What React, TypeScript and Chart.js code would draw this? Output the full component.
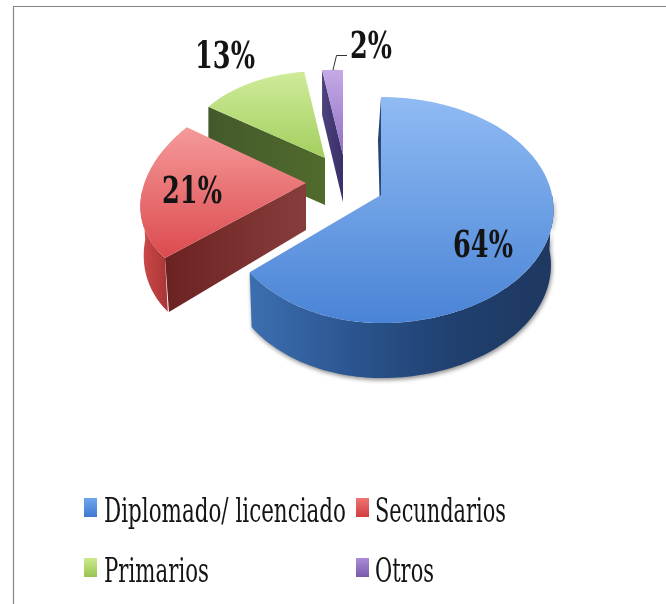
import React, { useEffect, useRef } from "react";
import { Chart, registerables } from "chart.js";

Chart.register(...registerables);

const categories = ["Diplomado/ licenciado", "Secundarios", "Primarios", "Otros"];
const shares = [64, 21, 13, 2];
const baseColors = ["#4f81bd", "#c0504d", "#9bbb59", "#8064a2"];

type Pt = [number, number];

// Projection of each exploded slice (unit disc -> page), plus extrusion and colours.
const sliceStyles = [
  { cx: 381, cy: 195, a: 171, aLeft: 156, b: 0, c: 0, d: -111, k: 0.133, depth: 55, dm: 0, shrink: 0.985,
    wall: { depth: 43, dx: -3 }, face: ["#90bbf3", "#4a84d6"], outer: ["#3c6fb0", "#2b5590", "#20406f", "#1e3860"], cut: ["#1f3a64", "#2a4c80"] },
  { cx: 306, cy: 183, a: 164, aLeft: 164, b: 23, c: -8.7, d: -107, k: 0, depth: 47, dm: 0.09, shrink: 0.98,
    wall: { depth: 54, dx: 4 }, face: ["#f59a9a", "#dc4a4e"], outer: ["#cf4a4a", "#a93535"], cut: ["#6d2222", "#883d3d"] },
  { cx: 325, cy: 158, a: 142, aLeft: 142, b: -3, c: 0, d: -87, k: 0, depth: 47, dm: 0, shrink: 1,
    wall: { depth: 47, dx: 0 }, face: ["#cfeb9a", "#a3cf5f"], outer: ["#4d6428", "#4d6428"], cut: ["#43592b", "#506b2c"] },
  { cx: 343, cy: 155, a: 167, aLeft: 167, b: 0, c: 5, d: -85, k: 0, depth: 47, dm: 0, shrink: 1,
    wall: { depth: 45, dx: 0 }, face: ["#c4aae6", "#9070c4"], outer: ["#41366e", "#41366e"], cut: ["#4d4280", "#3a2f66"] },
];
const drawOrder = [3, 2, 1, 0];

const pctStyles = [
  { x: 483, y: 257, w: 60 },
  { x: 192, y: 203, w: 60 },
  { x: 225, y: 68, w: 60 },
  { x: 371, y: 58, w: 42 },
];
const legendStyles = [
  { box: 84, text: 104, base: 522, boxTop: 498, w: 242 },
  { box: 356, text: 375, base: 522, boxTop: 498, w: 131 },
  { box: 84, text: 104, base: 582, boxTop: 558, w: 105 },
  { box: 356, text: 375, base: 582, boxTop: 558, w: 59 },
];
const legendBoxColors = [
  ["#6ea6ee", "#3f7ad0"],
  ["#f07474", "#d23c40"],
  ["#cdea8c", "#98c450"],
  ["#ab8cd8", "#7a5aaa"],
];

function project(s: any, angle: number): Pt {
  const x = Math.cos(angle);
  const y = -Math.sin(angle);
  const w = 1 + s.k * y;
  const dx = (x < 0 ? s.aLeft : s.a) * x + s.b * y;
  const dy = s.c * x + s.d * y;
  return [s.cx + dx / w, s.cy + dy / w];
}

function lower(s: any, p: Pt): Pt {
  return [s.cx + (p[0] - s.cx) * s.shrink, p[1] + s.depth + (p[1] - s.cy) * s.dm];
}

function fillPoly(ctx: CanvasRenderingContext2D, pts: Pt[], cols: string[], vertical: boolean) {
  const xs = pts.map((p) => p[0]);
  const ys = pts.map((p) => p[1]);
  const g = vertical
    ? ctx.createLinearGradient(0, Math.min(...ys), 0, Math.max(...ys))
    : ctx.createLinearGradient(Math.min(...xs), 0, Math.max(...xs), 0);
  cols.forEach((c, i) => g.addColorStop(i / (cols.length - 1), c));
  ctx.fillStyle = g;
  ctx.beginPath();
  pts.forEach((p, i) => (i ? ctx.lineTo(p[0], p[1]) : ctx.moveTo(p[0], p[1])));
  ctx.closePath();
  ctx.fill();
}

const sample = (a0: number, a1: number) => {
  const n = Math.max(2, Math.ceil(Math.abs(a1 - a0) * 40));
  return Array.from({ length: n + 1 }, (_, i) => a0 + ((a1 - a0) * i) / n);
};

function drawText(ctx: CanvasRenderingContext2D, text: string, x: number, base: number, font: string, align: "left" | "center", width: number) {
  ctx.save();
  ctx.font = font;
  ctx.fillStyle = "#141414";
  ctx.textAlign = align;
  ctx.textBaseline = "alphabetic";
  const sx = width / ctx.measureText(text).width;
  ctx.translate(x, base);
  ctx.scale(sx, 1);
  ctx.fillText(text, 0, 0);
  ctx.restore();
}

const pie3d = {
  id: "pie3d",
  beforeDatasetDraw(chart: any) {
    const ctx: CanvasRenderingContext2D = chart.ctx;
    const arcs = chart.getDatasetMeta(0).data;
    ctx.save();

    // frame
    ctx.strokeStyle = "#858585";
    ctx.lineWidth = 1.2;
    ctx.beginPath();
    ctx.moveTo(13.5, 604);
    ctx.lineTo(13.5, 6.5);
    ctx.lineTo(666, 6.5);
    ctx.stroke();

    for (const i of drawOrder) {
      const s = sliceStyles[i];
      const { startAngle, endAngle } = arcs[i];
      const apex: Pt = [s.cx, s.cy];

      // straight cut wall
      const p0 = project(s, startAngle);
      fillPoly(ctx, [p0, apex, lower(s, apex), [p0[0] + s.wall.dx, p0[1] + s.wall.depth]], s.cut, false);

      // curved outer wall (front half only)
      const from = Math.max(startAngle, 0);
      const to = Math.min(endAngle, Math.PI);
      if (to > from) {
        const top = sample(from, to).map((a) => project(s, a));
        const bottom = top.map((p) => lower(s, p)).reverse();
        ctx.save();
        if (i === 0) {
          ctx.shadowColor = "rgba(0,0,0,0.45)";
          ctx.shadowBlur = 4;
          ctx.shadowOffsetX = 1;
          ctx.shadowOffsetY = 2;
        }
        fillPoly(ctx, [...top, ...bottom], s.outer, false);
        ctx.restore();
      }

      // top face
      fillPoly(ctx, [apex, ...sample(startAngle, endAngle).map((a) => project(s, a))], s.face, true);
    }

    // percentage labels
    shares.forEach((v, i) => {
      const p = pctStyles[i];
      drawText(ctx, `${v}%`, p.x, p.y, "bold 37px 'DejaVu Serif'", "center", p.w);
    });

    // leader line of the smallest slice
    ctx.strokeStyle = "#333";
    ctx.lineWidth = 1;
    ctx.beginPath();
    ctx.moveTo(333, 70);
    ctx.lineTo(336.5, 55.5);
    ctx.lineTo(347, 55.5);
    ctx.stroke();

    // legend
    categories.forEach((name, i) => {
      const l = legendStyles[i];
      fillPoly(
        ctx,
        [
          [l.box, l.boxTop],
          [l.box + 13, l.boxTop],
          [l.box + 13, l.boxTop + 19],
          [l.box, l.boxTop + 19],
        ],
        legendBoxColors[i],
        true
      );
      drawText(ctx, name, l.text, l.base, "33px 'DejaVu Serif'", "left", l.w);
    });

    ctx.restore();
    return false;
  },
};

export default function App() {
  const ref = useRef<HTMLCanvasElement | null>(null);
  useEffect(() => {
    document.body.style.margin = "0";
    document.body.style.background = "#fff";
    const chart = new Chart(ref.current as HTMLCanvasElement, {
      type: "pie",
      data: {
        labels: categories,
        datasets: [{ data: shares, backgroundColor: baseColors }],
      },
      options: {
        responsive: false,
        animation: false,
        plugins: { legend: { display: false }, tooltip: { enabled: false } },
      },
      plugins: [pie3d],
    } as any);
    return () => chart.destroy();
  }, []);
  return (
    <canvas
      ref={ref}
      width={666}
      height={604}
      style={{ display: "block", width: 666, height: 604, filter: "blur(0.6px)" }}
    />
  );
}
